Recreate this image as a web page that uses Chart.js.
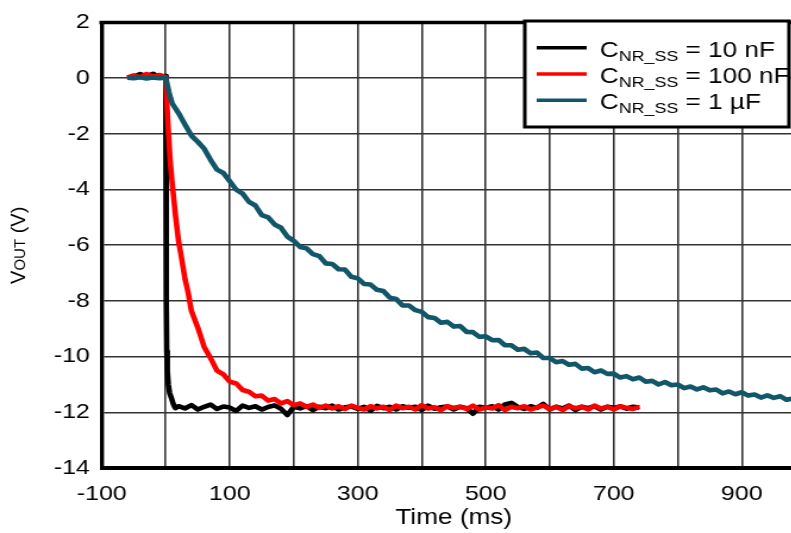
<!DOCTYPE html>
<html>
<head>
<meta charset="utf-8">
<script src="https://cdn.jsdelivr.net/npm/chart.js@4"></script>
<style>
  html, body { margin: 0; padding: 0; background: #fff; width: 791px; height: 533px; overflow: hidden; }
  #wrap { transform: scaleX(1.19); transform-origin: 0 0; width: 700px; height: 533px; }
</style>
</head>
<body>
<div id="wrap"><canvas id="c" width="700" height="533"></canvas></div>
<script>
// x ticks every 100 ms, but only every other one gets a label
const X_MIN = -100, X_MAX = 1000, X_STEP = 100;
const Y_MIN = -14, Y_MAX = 2, Y_STEP = 2;
const STRETCH = 1.19; // whole page is stretched sideways like the source image

const seriesNames = ['10 nF', '100 nF', '1 µF'];

// C_NR_SS = 10 nF
const blackTime = [
  -60, -50, -40, -30, -20, -10, 0, 0.5, 1, 1.5,
  2.5, 4, 6, 9, 12, 15,
  20, 30, 40, 50, 60, 70, 80, 90, 100, 110,
  120, 130, 140, 150, 160, 170, 180, 190, 200, 210,
  220, 230, 240, 250, 260, 270, 280, 290, 300, 310,
  320, 330, 340, 350, 360, 370, 380, 390, 400, 410,
  420, 430, 440, 450, 460, 470, 480, 490, 500, 510,
  520, 530, 540, 550, 560, 570, 580, 590, 600, 610,
  620, 630, 640, 650, 660, 670, 680, 690, 700, 710,
  720, 730, 740
];
const blackVolts = [
  0.03, 0.06, 0.15, 0.08, 0.16, 0.05, 0.08, -4.0, -8.0, -9.8,
  -10.5, -11.0, -11.3, -11.5, -11.72, -11.85,
  -11.78, -11.86, -11.74, -11.9, -11.8, -11.72, -11.88, -11.79, -11.83, -11.95,
  -11.76, -11.84, -11.78, -11.9, -11.81, -11.75, -11.87, -12.1, -11.8, -11.86,
  -11.78, -11.92, -11.8, -11.85, -11.76, -11.9, -11.82, -11.79, -11.88, -11.8,
  -11.94, -11.77, -11.85, -11.8, -11.9, -11.78, -11.84, -11.8, -11.92, -11.76,
  -11.87, -11.82, -11.79, -11.9, -11.8, -11.85, -12.05, -11.8, -11.84, -11.78,
  -11.9, -11.72, -11.66, -11.8, -11.88, -11.78, -11.84, -11.7, -11.9, -11.8,
  -11.86, -11.76, -11.92, -11.8, -11.85, -11.78, -11.9, -11.8, -11.84, -11.79,
  -11.87, -11.8, -11.83
];

// C_NR_SS = 100 nF
const redTime = [
  -60, -50, -40, -30, -20, -10, 0, 2, 4, 7,
  10, 15, 20, 25, 30, 35, 40, 50, 60, 70,
  80, 90, 100, 110, 120, 130, 140, 150, 160, 170,
  180, 190, 200, 210, 220, 230, 240, 250, 260, 270,
  280, 290, 300, 310, 320, 330, 340, 350, 360, 370,
  380, 390, 400, 410, 420, 430, 440, 450, 460, 470,
  480, 490, 500, 510, 520, 530, 540, 550, 560, 570,
  580, 590, 600, 610, 620, 630, 640, 650, 660, 670,
  680, 690, 700, 710, 720, 730, 740
];
const redVolts = [
  0.02, 0.1, 0.04, 0.15, 0.06, 0.12, 0.04, -1.0, -1.9, -3.0,
  -3.75, -4.9, -5.85, -6.5, -7.2, -7.7, -8.35, -8.95, -9.65, -10.05,
  -10.5, -10.64, -10.9, -10.96, -11.2, -11.26, -11.42, -11.4, -11.58, -11.52,
  -11.68, -11.6, -11.74, -11.68, -11.8, -11.72, -11.84, -11.76, -11.86, -11.78,
  -11.88, -11.76, -11.84, -11.9, -11.78, -11.86, -11.8, -11.92, -11.76, -11.85,
  -11.8, -11.9, -11.74, -11.86, -11.82, -11.92, -11.78, -11.84, -11.8, -11.88,
  -11.76, -11.9, -11.82, -11.86, -11.74, -11.92, -11.8, -11.85, -11.78, -11.9,
  -11.82, -11.76, -11.88, -11.8, -11.92, -11.78, -11.85, -11.8, -11.9, -11.76,
  -11.86, -11.8, -11.9, -11.78, -11.84, -11.88, -11.8
];

// C_NR_SS = 1 uF
const tealTime = [
  -60, -50, -40, -30, -20, -10, 0, 5, 10, 20,
  30, 40, 50, 60, 70, 80, 90, 100, 110, 120,
  130, 140, 150, 160, 170, 180, 190, 200, 210, 220,
  230, 240, 250, 260, 270, 280, 290, 300, 310, 320,
  330, 340, 350, 360, 370, 380, 390, 400, 410, 420,
  430, 440, 450, 460, 470, 480, 490, 500, 510, 520,
  530, 540, 550, 560, 570, 580, 590, 600, 610, 620,
  630, 640, 650, 660, 670, 680, 690, 700, 710, 720,
  730, 740, 750, 760, 770, 780, 790, 800, 810, 820,
  830, 840, 850, 860, 870, 880, 890, 900, 910, 920,
  930, 940, 950, 960, 970, 980
];
const tealVolts = [
  0.02, 0.0, 0.04, -0.01, 0.03, 0.0, 0.02, -0.5, -0.9, -1.25,
  -1.66, -2.06, -2.28, -2.53, -2.93, -3.28, -3.4, -3.7, -4.0, -4.14,
  -4.44, -4.57, -4.92, -5.0, -5.25, -5.37, -5.69, -5.84, -6.06, -6.11,
  -6.32, -6.39, -6.65, -6.67, -6.86, -6.87, -7.13, -7.19, -7.39, -7.41,
  -7.6, -7.64, -7.88, -7.93, -8.16, -8.16, -8.33, -8.39, -8.58, -8.61,
  -8.78, -8.75, -8.92, -8.9, -9.11, -9.12, -9.29, -9.27, -9.41, -9.4,
  -9.59, -9.59, -9.75, -9.72, -9.88, -9.85, -10.05, -10.05, -10.2, -10.16,
  -10.29, -10.26, -10.43, -10.41, -10.56, -10.5, -10.62, -10.61, -10.75, -10.7,
  -10.81, -10.75, -10.9, -10.87, -11.0, -10.91, -11.03, -11.0, -11.13, -11.07,
  -11.18, -11.1, -11.21, -11.18, -11.32, -11.25, -11.35, -11.28, -11.4, -11.36,
  -11.47, -11.39, -11.48, -11.42, -11.55, -11.5
];

const COLORS = ['#000000', '#ff0000', '#12566a'];
const FONT = 'Liberation Sans, Arial, sans-serif';

function toPoints(ts, vs) {
  return ts.map((t, i) => ({ x: t, y: vs[i] }));
}

// frame top line, legend with subscripts, rotated y title
const extras = {
  id: 'extras',
  afterDraw(chart) {
    const ctx = chart.ctx;
    const a = chart.chartArea;
    ctx.save();
    ctx.strokeStyle = '#000';
    ctx.lineWidth = 3.5;
    ctx.beginPath();
    ctx.moveTo(a.left - 2, a.top);
    ctx.lineTo(a.right, a.top);
    ctx.stroke();

    // legend box
    const bx = 441, by = 21, bw = 222, bh = 106;
    ctx.fillStyle = '#fff';
    ctx.fillRect(bx, by, bw, bh);
    ctx.lineWidth = 3;
    ctx.strokeRect(bx, by, bw, bh);
    seriesNames.forEach((name, i) => {
      const ly = 47.7 + i * 26.3;
      ctx.strokeStyle = COLORS[i];
      ctx.lineWidth = 3.5;
      ctx.beginPath();
      ctx.moveTo(451, ly);
      ctx.lineTo(493, ly);
      ctx.stroke();
      let x = 504;
      const base = ly + 8.8;
      ctx.fillStyle = '#000';
      ctx.textBaseline = 'alphabetic';
      ctx.textAlign = 'left';
      ctx.font = '22px ' + FONT;
      ctx.fillText('C', x, base);
      x += ctx.measureText('C').width;
      ctx.font = '15px ' + FONT;
      ctx.fillText('NR_SS', x, base + 4);
      x += ctx.measureText('NR_SS').width;
      ctx.font = '22px ' + FONT;
      ctx.fillText(' = ' + name, x, base);
    });

    // y axis title, rotated; undo the sideways stretch so glyphs keep their shape
    ctx.translate(25 / STRETCH, (a.top + a.bottom) / 2);
    ctx.scale(1 / STRETCH, 1);
    ctx.rotate(-Math.PI / 2);
    ctx.fillStyle = '#000';
    const big = '20px ' + FONT, small = '15px ' + FONT;
    ctx.font = big; const w1 = ctx.measureText('V').width;
    ctx.font = small; const w2 = ctx.measureText('OUT').width;
    ctx.font = big; const w3 = ctx.measureText(' (V)').width;
    let x = -(w1 + w2 + w3) / 2;
    ctx.font = big; ctx.fillText('V', x, 0); x += w1;
    ctx.font = small; ctx.fillText('OUT', x, 0); x += w2;
    ctx.font = big; ctx.fillText(' (V)', x, 0);
    ctx.restore();
  }
};

const tickFont = { family: FONT, size: 21 };

new Chart(document.getElementById('c'), {
  type: 'line',
  data: {
    datasets: [
      { label: seriesNames[0], data: toPoints(blackTime, blackVolts), borderColor: COLORS[0], order: 3 },
      { label: seriesNames[1], data: toPoints(redTime, redVolts), borderColor: COLORS[1], order: 2 },
      { label: seriesNames[2], data: toPoints(tealTime, tealVolts), borderColor: COLORS[2], order: 1 }
    ]
  },
  options: {
    responsive: false,
    animation: false,
    layout: { padding: { top: 20, right: 22.9, left: 0, bottom: 0 } },
    elements: { line: { borderWidth: 4.6, tension: 0, borderJoinStyle: 'round' }, point: { radius: 0 } },
    plugins: { legend: { display: false }, tooltip: { enabled: false } },
    scales: {
      x: {
        type: 'linear', min: X_MIN, max: X_MAX,
        ticks: {
          stepSize: X_STEP, autoSkip: false, maxRotation: 0, padding: 14,
          color: '#000', font: tickFont,
          callback: v => ((v + 100) % 200 === 0 ? String(v) : '')
        },
        grid: { color: '#333', lineWidth: 1.6, drawTicks: false },
        border: { color: '#000', width: 4 },
        title: { display: true, text: 'Time (ms)', color: '#000', font: { family: FONT, size: 22 }, padding: { top: 0, bottom: 2 } },
        afterFit: s => { s.height = 65; }
      },
      y: {
        min: Y_MIN, max: Y_MAX,
        ticks: { stepSize: Y_STEP, padding: 10, color: '#000', font: tickFont },
        grid: { color: '#333', lineWidth: 1.6, drawTicks: false },
        border: { color: '#000', width: 3.4 },
        afterFit: s => { s.width = 85.5; }
      }
    }
  },
  plugins: [extras]
});
</script>
</body>
</html>
